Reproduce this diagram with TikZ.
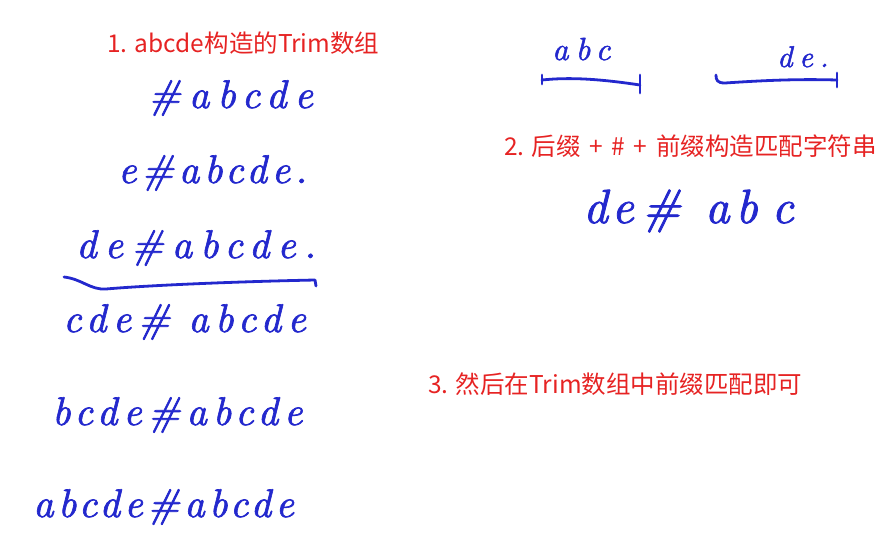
\documentclass[tikz,border=0pt]{standalone}
\usepackage{fontspec}
\newfontfamily\cjk{Noto Sans CJK SC}
\newfontfamily\handfont{lmroman10-italic.otf}
\definecolor{penblue}{RGB}{35,40,205}
\definecolor{notered}{RGB}{230,35,35}

\begin{document}
\begin{tikzpicture}[x=1pt, y=-1pt,
    note/.style={font={\cjk\fontsize{24.5}{28}\selectfont}, text=notered, anchor=base west, inner sep=0pt},
    hand/.style 2 args={font={\handfont\addfontfeature{LetterSpace=#1,FakeBold=1.6}\fontsize{#2}{#2}\selectfont}, text=penblue, anchor=base west, inner sep=0pt},
    pen/.style={draw=penblue, line width=2.8pt, line cap=round, line join=round}]

        % Fix the page size
        \useasboundingbox (0,0) rectangle (884,555);

        % Step 1: the Trim array of abcde
        \node[note] (title1) at (107,52) {1. abcde构造的Trim数组};
        \node[hand={20}{40}] (row1) at (148,108) {\#abcde};
        \node[hand={12}{40}] (row2) at (118,183) {e\#abcde.};
        \node[hand={20}{40}] (row3) at (76,258) {de\#abcde.};
        \node[hand={16}{40}] (row4) at (63,332) {cde\#\hspace{18pt}abcde};
        \node[hand={15}{40}] (row5) at (52,425) {bcde\#abcde};
        \node[hand={11}{40}] (row6) at (33,517) {abcde\#abcde};

        % Wavy underline below the third row
        \draw[pen] (64,277) .. controls (82,279) and (90,290) .. (106,289)
            .. controls (140,286) and (220,282) .. (315,280) -- (316,286);

        % Step 2: prefix and suffix
        \node[hand={22}{32}] (prefix) at (552,60) {abc};
        \node[hand={22}{30}] (suffix) at (777,67) {de.};

        % Brackets under prefix and suffix
        \draw[pen] (542,75) -- (542,84);
        \draw[pen] (542,80) .. controls (570,77) and (600,79) .. (640,85);
        \draw[pen] (640,75) -- (640,93);
        \draw[pen] (716,75) .. controls (716,80) and (717,83) .. (725,83)
            .. controls (770,80) and (800,79) .. (837,80);
        \draw[pen] (837,73) -- (837,87);

        \node[note] (title2) at (504,155) {2. 后缀\hspace{0.35em}+\hspace{0.35em}\#\hspace{0.35em}+\hspace{0.35em}前缀构造匹配字符串};
        \node[hand={0}{48}] (match) at (583,223) {d\hspace{4pt}e\hspace{8pt}\#\hspace{24pt}a\hspace{6pt}b\hspace{14pt}c};

        % Step 3
        \node[note] (title3) at (428,393) {3. 然后在Trim数组中前缀匹配即可};
    \end{tikzpicture}
\end{document}
